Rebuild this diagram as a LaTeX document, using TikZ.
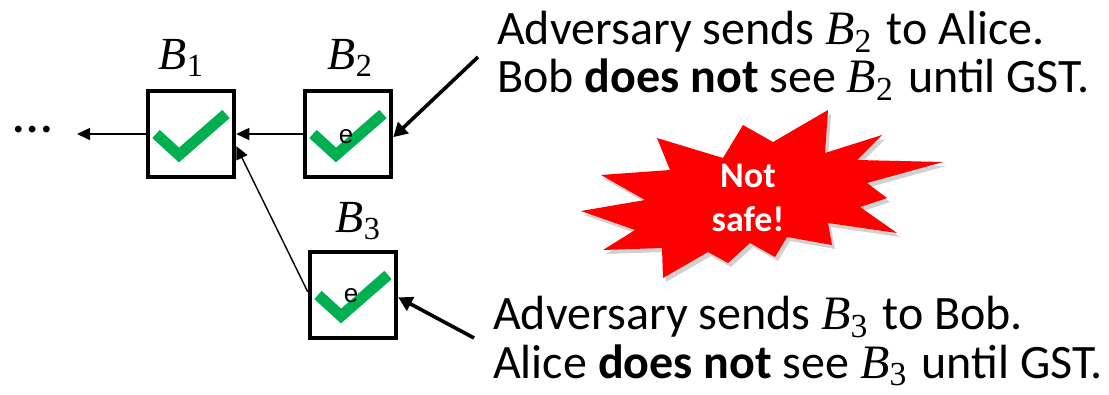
\documentclass[tikz,border=0pt]{standalone}
\usepackage{fix-cm}
\usepackage{amsmath}
\usepackage{fontspec}
\setmainfont{Carlito}
\newfontfamily\glyphfont{Liberation Sans}
\newfontfamily\serifvar{Liberation Serif}
\usetikzlibrary{arrows.meta,calc}
\definecolor{okgreen}{RGB}{0,176,80}
\definecolor{alarmred}{RGB}{255,0,0}

% block name: italic serif B with an upright index
\newcommand\blk[1]{\ensuremath{\text{\serifvar\itshape B}_{\text{\serifvar #1}}}\kern0.08em\relax}

\tikzset{
  tick/.pic={\draw[okgreen,line width=11pt,line join=miter]
    (-35,0) -- (-12,21) -- (35,-20);},
}

\begin{document}
\begin{tikzpicture}[x=1pt,y=-1pt,
  block/.style={draw=black,line width=4.5pt,minimum size=86pt,inner sep=0pt,fill=white},
  blabel/.style={inner sep=0pt,font=\fontsize{46}{46}\selectfont},
  link/.style={line width=1.4pt,-{Triangle[length=13pt,width=12pt]}},
  pointer/.style={line width=3.6pt,-{Triangle[length=14pt,width=15pt]}},
  caption/.style={anchor=base west,inner sep=0pt,font=\fontsize{48}{48}\selectfont},
  eglyph/.style={inner sep=0pt,font=\glyphfont\fontsize{26}{26}\selectfont},
]
\useasboundingbox (0,0) rectangle (1109,395);

% blocks of the chain
\node[block] (b1) at (191,134) {};
\node[block] (b2) at (348,134) {};
\node[block] (b3) at (353,295) {};

\pic at (b1) {tick};
\pic at (b2) {tick};
\pic at (b3) {tick};
\node[eglyph] (e2) at (346,137) {e};
\node[eglyph] (e3) at (351,296) {e};

\node[blabel] (l1) at (183,58) {\blk{1}};
\node[blabel] (l2) at (352,58) {\blk{2}};
\node[blabel] (l3) at (360,221) {\blk{3}};

% earlier part of the chain
\node[inner sep=0pt,font=\fontsize{56}{56}\selectfont] (dots) at (33,130) {\ldots};
\coordinate (tail) at (77,134);

\draw[link] (b1.west) -- (tail);
\draw[link] (b2.west) -- (b1.east);
\draw[link] (b3.176) -- (b1.-15);

% explanations
\node[caption] (t1) at (497,45) {Adversary sends \blk{2} to Alice.};
\node[caption] (t2) at (497,93) {Bob \textbf{does not} see \blk{2} until GST.};
\node[caption] (t3) at (493,330) {Adversary sends \blk{3} to Bob.};
\node[caption] (t4) at (493,378) {Alice \textbf{does not} see \blk{3} until GST.};

\coordinate (p2) at (478,57);
\coordinate (p3) at (474,338);
\draw[pointer] (p2) -- (b2.-4);
\draw[pointer] (p3) -- (b3.-3);

% warning burst
\def\burst{(828,110) -- (825,153) -- (882,135) -- (857,160) -- (943,162) -- (867,183)
  -- (887,198) -- (860,207) -- (897,233) -- (828,223) -- (832,245) -- (787,237)
  -- (775,257) -- (750,243) -- (728,263) -- (708,252) -- (663,278) -- (662,248)
  -- (603,250) -- (635,230) -- (581,211) -- (645,200) -- (601,175) -- (670,170)
  -- (657,138) -- (723,158) -- (743,125) -- (773,142) -- cycle}
\fill[black,opacity=0.18,shift={(3,4)}] \burst;
\fill[alarmred] \burst;
\node[align=center,text=white,inner sep=0pt,font=\bfseries\fontsize{36}{44}\selectfont]
  (warn) at (748,198) {Not\\safe!};
\end{tikzpicture}
\end{document}
